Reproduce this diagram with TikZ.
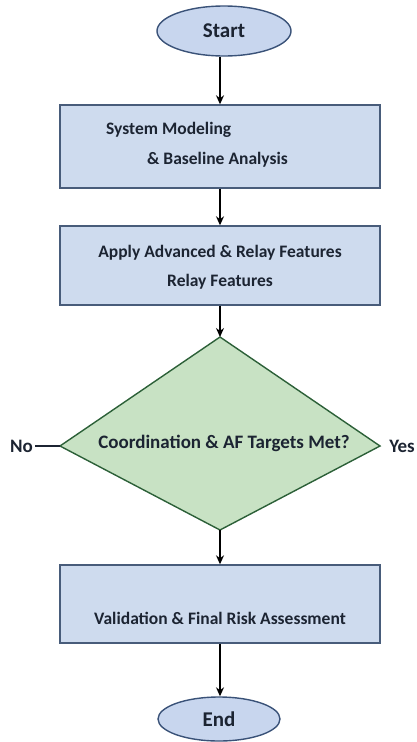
\documentclass[tikz,border=0pt]{standalone}
\usepackage{fontspec}
\setmainfont{Carlito}
\usetikzlibrary{shapes.geometric,arrows.meta}
\definecolor{boxfill}{RGB}{206,219,238}
\definecolor{boxline}{RGB}{72,92,122}
\definecolor{ovalfill}{RGB}{200,214,238}
\definecolor{ovalline}{RGB}{58,82,120}
\definecolor{dfill}{RGB}{200,226,196}
\definecolor{dline}{RGB}{44,96,56}
\definecolor{txt}{RGB}{28,36,50}
\tikzset{
  procbox/.style={draw=boxline, fill=boxfill, line width=1.4pt, rectangle, inner sep=0pt},
  oval/.style={draw=ovalline, fill=ovalfill, line width=1.4pt, ellipse, inner sep=0pt,
    font=\fontsize{21}{24}\selectfont\bfseries, text=txt},
  boxtext/.style={font=\fontsize{17.5}{20}\selectfont\bfseries, text=txt, inner sep=0pt},
  dtext/.style={font=\fontsize{19}{22}\selectfont\bfseries, text=txt, inner sep=0pt},
  flow/.style={draw=black, line width=1.4pt, -{Stealth[length=9pt,width=8pt]}}
}
\begin{document}
\begin{tikzpicture}[x=1pt,y=-1pt]
\useasboundingbox (0,0) rectangle (416,742);
% start
\node[oval, minimum width=134pt, minimum height=50pt] (start) at (224,31) {Start};
% box 1
\node[procbox, minimum width=320pt, minimum height=83pt] (box1) at (220,146.5) {};
\node[boxtext, anchor=west] (t1a) at (106,130) {System Modeling};
\node[boxtext, anchor=west] (t1b) at (147,160) {\& Baseline Analysis};
% box 2
\node[procbox, minimum width=320pt, minimum height=79pt] (box2) at (220,265.5) {};
\node[boxtext] (t2a) at (220,253) {Apply Advanced \& Relay Features};
\node[boxtext] (t2b) at (220,282) {Relay Features};
% diamond
\coordinate (dtop) at (220,337);
\coordinate (dleft) at (60,446);
\coordinate (dright) at (380,446);
\coordinate (dbot) at (220,530);
\draw[draw=dline, fill=dfill, line width=1.4pt, line join=miter] (dtop) -- (dright) -- (dbot) -- (dleft) -- cycle;
\node[dtext] (dq) at (224,443) {Coordination \& AF Targets Met?};
\node[dtext, anchor=east] (no) at (33,446) {No};
\node[dtext, anchor=east] (yes) at (415,446) {Yes};
\draw[line width=1.4pt, draw=txt] (no.east) ++(2pt,0) -- (dleft);
% box 3
\node[procbox, minimum width=320pt, minimum height=78pt] (box3) at (220,604) {};
\node[boxtext] (t3) at (220,618) {Validation \& Final Risk Assessment};
% end
\node[oval, minimum width=122pt, minimum height=44pt] (end) at (219,719) {End};
% connectors
\draw[flow] (start.south -| box1.north) -- (box1.north);
\draw[flow] (box1.south) -- (box2.north);
\draw[flow] (box2.south) -- (dtop);
\draw[flow] (dbot) -- (box3.north);
\draw[flow] (box3.south) -- (box3.south |- end.north);
\end{tikzpicture}
\end{document}
